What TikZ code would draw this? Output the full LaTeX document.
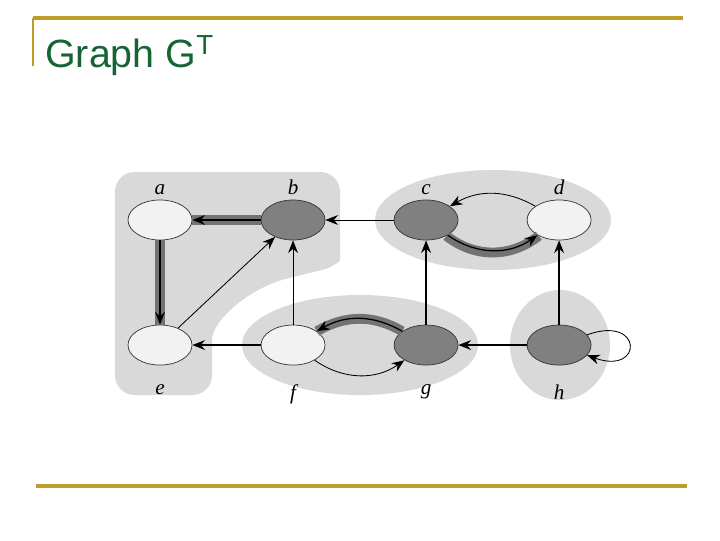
\documentclass[tikz,border=0pt]{standalone}
\usepackage{fontspec}
\usepackage{xcolor}
\usepackage{tikz}
\usetikzlibrary{shapes.geometric,arrows.meta}
\newfontfamily\titlefont{Liberation Sans}
\newfontfamily\labelfont{Liberation Serif}
\definecolor{titlegreen}{RGB}{22,100,52}
\definecolor{rulegold}{RGB}{190,158,40}

\begin{document}
\begin{tikzpicture}[x=0.025cm,y=-0.025cm,node distance=3.325cm,>={Stealth[length=9pt,width=7pt,inset=3pt]}]
\tikzstyle{vert}=[ellipse,draw=black!80,line width=0.5pt,minimum width=1.6cm,minimum height=1cm,inner sep=0pt,label distance=7pt]
\tikzstyle{dark}=[vert,fill=black!50]
\tikzstyle{light}=[vert,fill=black!5]
\tikzstyle{region}=[fill=black!15]
\tikzstyle{tree}=[draw=black!55,line width=7pt]
\tikzstyle{arc}=[->,line width=0.9pt]
\tikzstyle{thinarc}=[->,line width=0.6pt]
\tikzstyle{rule}=[draw=rulegold,line width=2.2pt]
\tikzset{every label/.style={font=\labelfont\itshape\fontsize{15}{18}\selectfont},
  labbelow/.style={label={[label distance=10pt]below:#1}}}
\fill[white] (0,0) rectangle (720,540);
\useasboundingbox (0,0) rectangle (720,540);
% slide frame
\draw[rule] (33,18) -- (683,18);
\draw[rule,line width=1.5pt] (33,18) -- (33,66);
\draw[rule] (36,486) -- (687,486);
\node[anchor=base west,inner sep=0pt,text=titlegreen,font=\titlefont\fontsize{28}{32}\selectfont] (title) at (45,67) {Graph G\textsuperscript{T}};
% components
\fill[region,rounded corners=14] (212,395) -- (115,395) -- (115,172) -- (340,172) -- (340,240)
  .. controls (340,262) and (330,268) .. (305,274) .. controls (250,288) and (212,320) .. (212,360) -- cycle;
\fill[region] (493,220) ellipse (118 and 50);
\fill[region] (360,345) ellipse (118 and 50);
\fill[region] (560,345) ellipse (50 and 55);
% vertices
\node[light,label=above:a] (a) at (160,220) {};
\node[dark,right of=a,label=above:b] (b) {};
\node[dark,right of=b,label=above:c] (c) {};
\node[light,right of=c,label=above:d] (d) {};
\node[light,below of=a,node distance=3.125cm,labbelow=e] (e) {};
\node[light,right of=e,labbelow=f] (f) {};
\node[dark,right of=f,labbelow=g] (g) {};
\node[dark,right of=g,labbelow=h] (h) {};
% edges
\draw[tree] (b) -- (a);
\draw[arc] (b) -- (a);
\draw[tree] (a) -- (e);
\draw[arc] (a) -- (e);
\draw[thinarc] (e) -- (b);
\draw[thinarc] (f) -- (b);
\draw[arc] (f) -- (e);
\draw[thinarc] (c) -- (b);
\draw[arc] (g) -- (c);
\draw[arc] (h) -- (d);
\draw[arc] (h) -- (g);
\draw[tree] (c) to[bend right=38] (d);
\draw[arc] (c) to[bend right=35] (d);
\draw[thinarc] (d) to[bend right=30] (c);
\draw[tree] (g) to[bend right=30] (f);
\draw[arc] (g) to[bend right=30] (f);
\draw[thinarc] (f) to[bend right=35] (g);
\draw[thinarc] (h) to[out=20,in=-20,min distance=1.5cm] (h);
\end{tikzpicture}
\end{document}
